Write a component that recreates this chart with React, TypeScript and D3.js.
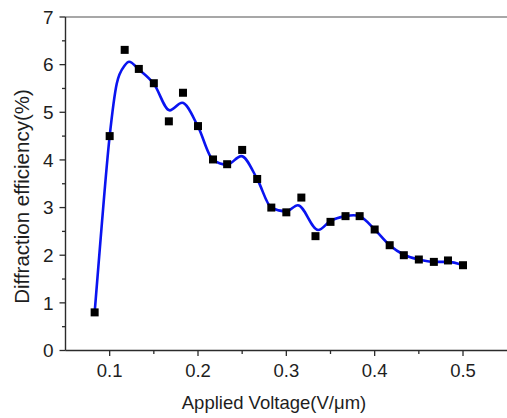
import React from 'react';
import {scaleLinear, line, curveMonotoneX, range} from 'd3';

// measured points
const voltage = [
  0.083, 0.1, 0.117, 0.133, 0.15, 0.167, 0.183, 0.2, 0.217, 0.233, 0.25, 0.267, 0.283,
  0.3, 0.317, 0.333, 0.35, 0.367, 0.383, 0.4, 0.417, 0.433, 0.45, 0.467, 0.483, 0.5,
];
const efficiency = [
  0.8, 4.5, 6.31, 5.91, 5.61, 4.81, 5.41, 4.71, 4.01, 3.91, 4.21, 3.6, 3.0,
  2.9, 3.21, 2.4, 2.7, 2.82, 2.82, 2.54, 2.21, 2.0, 1.91, 1.86, 1.89, 1.79,
];

// smoothed fit curve
const fitVoltage = [
  0.083, 0.09, 0.1, 0.108, 0.117, 0.122, 0.133, 0.15, 0.168, 0.182, 0.2, 0.217, 0.233,
  0.249, 0.267, 0.283, 0.3, 0.313, 0.336, 0.35, 0.367, 0.376, 0.383, 0.4, 0.417, 0.433,
  0.45, 0.467, 0.483, 0.5,
];
const fitEfficiency = [
  0.8, 2.4, 4.5, 5.6, 5.98, 6.06, 5.9, 5.6, 5.04, 5.2, 4.7, 4.0, 3.9,
  4.08, 3.6, 3.0, 2.92, 3.05, 2.53, 2.72, 2.82, 2.84, 2.82, 2.54, 2.21, 2.01,
  1.91, 1.86, 1.86, 1.79,
];

const xTicks = [0.1, 0.2, 0.3, 0.4, 0.5];
const xMinorTicks = [0.15, 0.25, 0.35, 0.45];
const yTicks = [0, 1, 2, 3, 4, 5, 6, 7];
const yMinorTicks = [0.5, 1.5, 2.5, 3.5, 4.5, 5.5, 6.5];

const width = 507;
const height = 418;
const left = 65.5;
const top = 17;
const bottom = 350.5;
const font = 'Arial, "Liberation Sans", sans-serif';
const axisColor = '#2b2b2b';
const textColor = '#1e1e1e';

export default function App() {
  const xScale = scaleLinear().domain([0.05, 0.5]).range([left, 463]);
  const yScale = scaleLinear().domain([0, 7]).range([bottom, top]);

  const fit = fitVoltage.map((v, i) => [v, fitEfficiency[i]] as [number, number]);
  const fitPath = line<[number, number]>()
    .x((d) => xScale(d[0]))
    .y((d) => yScale(d[1]))
    .curve(curveMonotoneX)(fit);

  return (
    <svg
      width={width}
      height={height}
      style={{position: 'absolute', left: 0, top: 0, background: '#fff'}}
    >
      {/* frame */}
      <line x1={left} x2={width} y1={top} y2={top} stroke="#8a8a8a" strokeWidth={1.6} />
      <line x1={left} x2={left} y1={top} y2={bottom} stroke={axisColor} strokeWidth={1.4} />
      <line x1={left} x2={width} y1={bottom} y2={bottom} stroke={axisColor} strokeWidth={1.4} />

      {/* x axis */}
      {xTicks.map((t) => (
        <g key={t} transform={`translate(${xScale(t)}, ${bottom})`}>
          <line y2={5.5} stroke={axisColor} strokeWidth={1.3} />
          <text y={26} textAnchor="middle" fontFamily={font} fontSize={18.5} fill={textColor}>
            {t.toFixed(1)}
          </text>
        </g>
      ))}
      {xMinorTicks.map((t) => (
        <line key={t} x1={xScale(t)} x2={xScale(t)} y1={bottom} y2={bottom + 3.5}
          stroke={axisColor} strokeWidth={1.3} />
      ))}

      {/* y axis */}
      {yTicks.map((t) => (
        <g key={t} transform={`translate(${left}, ${yScale(t)})`}>
          <line x2={-6} stroke={axisColor} strokeWidth={1.3} />
          <text x={-12} dy="0.36em" textAnchor="end" fontFamily={font} fontSize={19} fill={textColor}>
            {t}
          </text>
        </g>
      ))}
      {yMinorTicks.map((t) => (
        <line key={t} x1={left} x2={left - 3.5} y1={yScale(t)} y2={yScale(t)}
          stroke={axisColor} strokeWidth={1.3} />
      ))}

      {/* fit */}
      <path d={fitPath ?? ''} fill="none" stroke="#0a14f0" strokeWidth={2.6} />

      {/* points */}
      {voltage.map((v, i) => (
        <rect key={v} x={xScale(v) - 4} y={yScale(efficiency[i]) - 4} width={8} height={8} fill="#000" />
      ))}

      {/* titles */}
      <text x={274} y={409} textAnchor="middle" fontFamily={font} fontSize={18.5} fill={textColor}>
        Applied Voltage(V/μm)
      </text>
      <text
        transform="translate(28.5, 196.5) rotate(-90)"
        textAnchor="middle"
        fontFamily={font}
        fontSize={20.5}
        fill={textColor}
      >
        Diffraction efficiency(%)
      </text>
    </svg>
  );
}
